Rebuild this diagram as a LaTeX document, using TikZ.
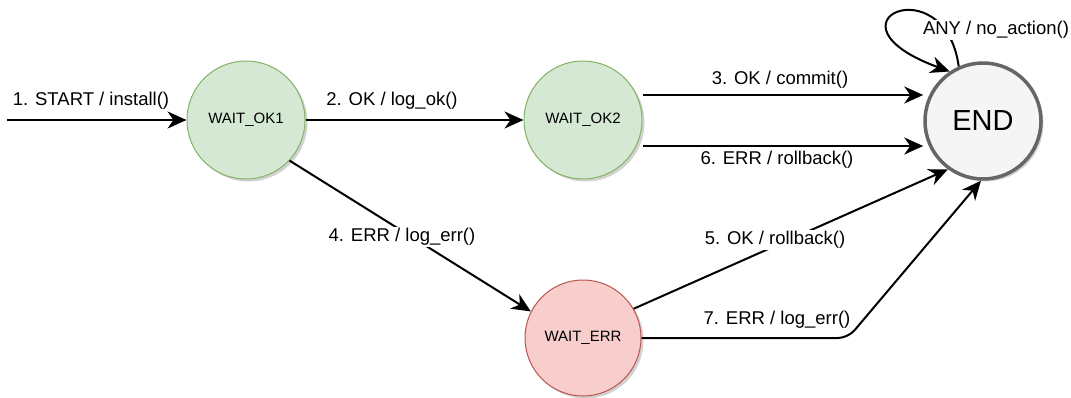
\documentclass[tikz,border=0pt]{standalone}
\usepackage{fontspec}
\setmainfont{Liberation Sans}
\usetikzlibrary{arrows.meta,shadows}
\definecolor{okfill}{HTML}{D5E8D4}
\definecolor{okdraw}{HTML}{82B366}
\definecolor{errfill}{HTML}{F8CECC}
\definecolor{errdraw}{HTML}{B85450}
\definecolor{endfill}{HTML}{F5F5F5}
\definecolor{enddraw}{HTML}{666666}
\tikzset{
  shad/.style={drop shadow={shadow xshift=2.5pt,shadow yshift=-2.5pt,opacity=0.3,fill=black!60}},
  okstate/.style={circle,shad,fill=okfill,draw=okdraw,line width=1pt,minimum size=118pt,inner sep=0pt,font=\fontsize{15}{18}\selectfont},
  errstate/.style={circle,shad,fill=errfill,draw=errdraw,line width=1pt,minimum size=116pt,inner sep=0pt,font=\fontsize{15}{18}\selectfont},
  endstate/.style={circle,shad,fill=endfill,draw=enddraw,line width=3.5pt,minimum size=116pt,inner sep=0pt,font=\fontsize{29}{34}\selectfont},
  conn/.style={line width=2pt,-{Stealth[length=19pt,width=17pt,inset=6pt]}},
  lbl/.style={fill=white,inner sep=1pt,font=\fontsize{18.5}{22}\selectfont},
}
\begin{document}
\begin{tikzpicture}[x=1pt,y=-1pt]
\useasboundingbox (0,0) rectangle (1071,397);
\node[okstate] (ok1) at (246,120) {WAIT\_OK1};
\node[okstate] (ok2) at (583,120) {WAIT\_OK2};
\node[errstate] (err) at (583,338) {WAIT\_ERR};
\node[endstate] (end) at (983,121) {END};
\coordinate (start) at (7,120);
\coordinate (c7) at (848,338);

\draw[conn] (start) -- (ok1.west);
\node[lbl] (l1) at (91,101) {1. START / install()};

\draw[conn] (ok1.east) -- (ok2.west);
\node[lbl] (l2) at (392,101) {2. OK / log\_ok()};

\draw[conn] (ok2.east |- 0,95) -- (end.west |- 0,95);
\node[lbl] (l3) at (780,80) {3. OK / commit()};

\draw[conn] (ok2.east |- 0,146) -- (end.west |- 0,146);
\node[lbl] (l6) at (777,160) {6. ERR / rollback()};

\draw[conn] (ok1.-43) -- (err.153);
\node[lbl] (l4) at (402,237) {4. ERR / log\_err()};

\draw[conn] (err.30) -- (end.234);
\node[lbl] (l5) at (775,240) {5. OK / rollback()};

\draw[conn,rounded corners=10pt] (err.east) -- (c7) -- (end.268);
\node[lbl] (l7) at (777,320) {7. ERR / log\_err()};

\draw[conn] (end.114) .. controls (945,-35) and (815,22) .. (end.124);
\node[lbl] (l8) at (996,30) {ANY / no\_action()};
\end{tikzpicture}
\end{document}
